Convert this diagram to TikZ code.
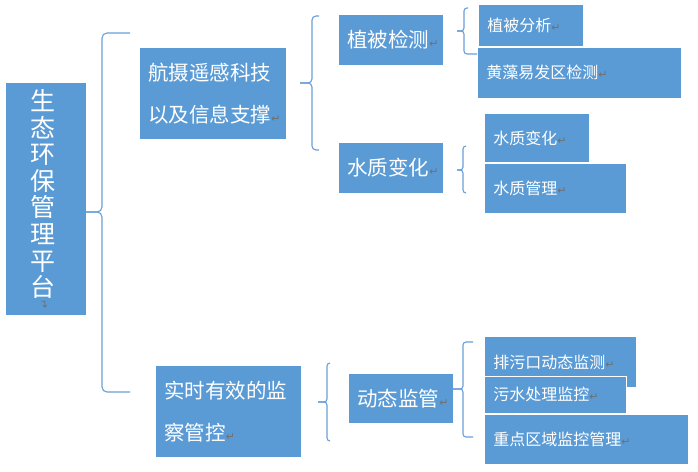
\documentclass[tikz,border=0pt]{standalone}
\usepackage{fontspec}
\setmainfont{Noto Sans CJK SC}
\newfontfamily\dv{DejaVu Sans}
\definecolor{boxblue}{HTML}{5B9BD5}
\definecolor{lineblue}{HTML}{6A9FD8}
\definecolor{retgray}{HTML}{707070}
\newcommand{\retm}{{\dv\fontsize{11}{11}\selectfont\textcolor{retgray}{↵}}}
\newcommand{\bigf}{\fontsize{20.5}{42}\selectfont}
\newcommand{\smf}{\fontsize{16}{20}\selectfont}
\newcommand{\mybrace}[8][4pt]{%
  \draw[brace,rounded corners=#1] (#4,#3) -- (#2,#3) -- (#2,#7) -- (#8,#7);
  \draw[brace,rounded corners=#1] (#6,#5) -- (#2,#5) -- (#2,#7) -- (#8,#7);}
\begin{document}
\begin{tikzpicture}[x=1pt,y=-1pt,
  box/.style={fill=boxblue, draw=white, line width=0.8pt, text=white,
    inner xsep=9pt, inner ysep=0pt, align=left, anchor=north west},
  brace/.style={draw=lineblue, line width=1.1pt}]
\useasboundingbox[fill=white] (0,0) rectangle (698,471);
% main box
\node[box, draw=none, text width=62pt, minimum height=232pt] (main) at (6,83) {};
\node[text=white, font=\fontsize{25}{26.6}\selectfont, align=center, inner sep=0pt] (mt) at (43,194) {生\\态\\环\\保\\管\\理\\平\\台};
\node[inner sep=0pt, rotate=90] (mr) at (45,304) {\retm};
% level 1
\node[box, text width=129pt, minimum height=92pt, font=\bigf] (hk) at (139,47) {航摄遥感科技\\以及信息支撑\retm};
\node[box, text width=128pt, minimum height=92pt, font=\bigf] (ss) at (155,365) {实时有效的监\\察管控\retm};
% level 2
\node[box, text width=87pt, minimum height=51pt, font=\bigf] (zb) at (338,14) {植被检测\retm};
\node[box, text width=87pt, minimum height=51pt, font=\bigf] (sz) at (338,142) {水质变化\retm};
\node[box, text width=87pt, minimum height=50pt, font=\bigf] (dt) at (348,373) {动态监管\retm};
% level 3
\node[box, text width=87pt, minimum height=42pt, font=\smf] (zbfx) at (478,4) {\raisebox{-6pt}{植被分析\retm}};
\node[box, text width=186pt, minimum height=51pt, font=\smf] (hz) at (477,47) {黄藻易发区检测\retm};
\node[box, text width=87pt, minimum height=49pt, font=\smf] (szbh) at (484,113) {水质变化\retm};
\node[box, text width=124pt, minimum height=50pt, font=\smf] (szgl) at (484,163) {水质管理\retm};
\node[box, text width=134pt, minimum height=51pt, font=\smf] (pw) at (484,336) {排污口动态监测\retm};
\node[box, text width=124pt, minimum height=37pt, font=\smf] (ws) at (484,376) {\raisebox{-7pt}{污水处理监控\retm}};
\node[box, text width=186pt, minimum height=50pt, font=\smf] (zd) at (484,414) {重点区域监控管理\retm};
% braces: [r]{x}{top}{topend}{bot}{botend}{mid}{tip}
\mybrace[5pt]{102}{33}{130}{392}{130}{212}{86}
\mybrace[4pt]{312}{16}{319}{150}{319}{83}{300}
\mybrace[3pt]{464}{8}{468}{54}{477}{31}{457}
\mybrace[3pt]{463}{146}{466}{193}{466}{170}{457}
\mybrace[3pt]{327}{363}{330}{441}{330}{402}{318}
\mybrace[3pt]{463}{342}{473}{437}{473}{389}{453}
\end{tikzpicture}
\end{document}
